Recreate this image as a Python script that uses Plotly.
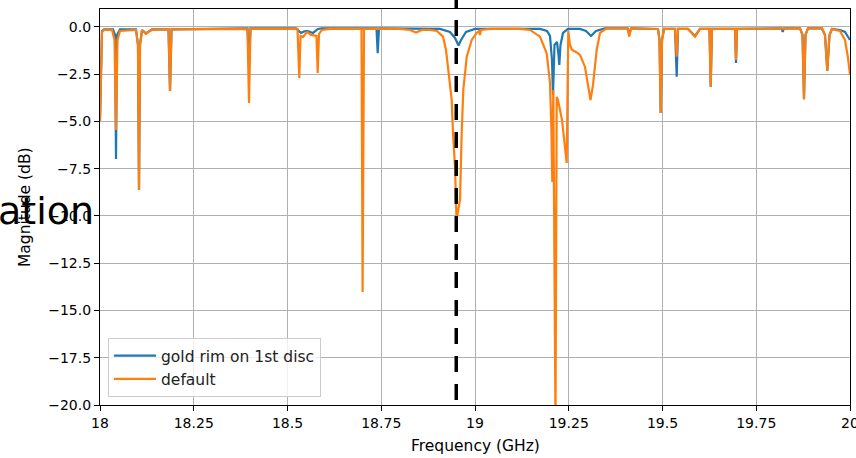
import plotly.graph_objects as go

# ---- data ----
freq_gold = [18.0, 18.0027, 18.0053, 18.0107, 18.0347, 18.04, 18.0427, 18.0453, 18.0533, 18.096,
             18.1013, 18.104, 18.1067, 18.112, 18.1227, 18.1387, 18.1827, 18.1867, 18.1907, 18.3933,
             18.3973, 18.4013, 18.5227, 18.536, 18.544, 18.552, 18.568, 18.5813, 18.592, 18.696,
             18.7373, 18.7405, 18.744, 18.9067, 18.9333, 18.9467, 18.956, 18.9627, 18.976, 19.0,
             19.1733, 19.192, 19.2, 19.2053, 19.208, 19.212, 19.2187, 19.2227, 19.2248, 19.228,
             19.2347, 19.248, 19.28, 19.296, 19.3093, 19.3227, 19.3467, 19.4067, 19.4115, 19.416,
             19.488, 19.492, 19.4952, 19.4987, 19.504, 19.5333, 19.5379, 19.5413, 19.568, 19.5867,
             19.6, 19.6253, 19.6285, 19.632, 19.6933, 19.696, 19.6987, 19.8173, 19.8205, 19.824,
             19.8667, 19.8733, 19.8773, 19.8813, 19.888, 19.9253, 19.9333, 19.9395, 19.9453, 19.952,
             19.9733, 19.9867, 20.0]
mag_gold = [-4.97, -1.75, -0.212, -0.132, -0.132, -0.423, -6.98, -0.423, -0.132, -0.132,
            -0.952, -8.62, -0.952, -0.159, -0.344, -0.132, -0.132, -3.39, -0.132, -0.079,
            -2.01, -0.079, -0.079, -0.317, -0.238, -0.212, -0.317, -0.106, -0.079, -0.079,
            -0.079, -1.392, -0.079, -0.106, -0.265, -0.582, -0.979, -0.688, -0.265, -0.106,
            -0.106, -0.212, -0.476, -1.746, -3.598, -0.952, -0.794, -1.481, -2.011, -0.952,
            -0.317, -0.106, -0.106, -0.212, -0.476, -0.212, -0.079, -0.079, -0.37, -0.079,
            -0.106, -0.688, -4.55, -0.688, -0.106, -0.106, -2.63, -0.106, -0.106, -0.476,
            -0.106, -0.106, -3.159, -0.106, -0.106, -1.905, -0.106, -0.079, -0.265, -0.079,
            -0.079, -0.423, -3.825, -0.423, -0.079, -0.079, -0.423, -2.312, -0.423, -0.106,
            -0.159, -0.265, -0.688]

freq_default = [18.0, 18.0027, 18.0053, 18.0107, 18.032, 18.0387, 18.0427, 18.0467, 18.0533, 18.096,
                18.1013, 18.104, 18.1067, 18.112, 18.1173, 18.1227, 18.1307, 18.1387, 18.1827, 18.1867,
                18.1907, 18.3933, 18.3973, 18.4013, 18.5267, 18.5315, 18.5347, 18.5413, 18.552, 18.5627,
                18.5773, 18.5805, 18.584, 18.592, 18.6133, 18.6973, 18.7003, 18.704, 18.8, 18.8267,
                18.8427, 18.8587, 18.88, 18.8987, 18.9147, 18.9227, 18.928, 18.9379, 18.9413, 18.9467,
                18.9507, 18.96, 18.9645, 18.9688, 18.9779, 18.9912, 19.0045, 19.0107, 19.0133, 19.016,
                19.04, 19.12, 19.1467, 19.1733, 19.1912, 19.2, 19.204, 19.2061, 19.2088, 19.2147,
                19.2179, 19.2213, 19.232, 19.2387, 19.2445, 19.2488, 19.2533, 19.2587, 19.2693, 19.28,
                19.2933, 19.3013, 19.308, 19.3147, 19.3245, 19.3333, 19.3512, 19.4067, 19.4115, 19.416,
                19.488, 19.492, 19.4952, 19.4987, 19.504, 19.5333, 19.5379, 19.5413, 19.568, 19.5867,
                19.6, 19.6253, 19.6285, 19.632, 19.6933, 19.696, 19.6987, 19.8667, 19.8733, 19.8773,
                19.8813, 19.888, 19.9253, 19.9333, 19.9395, 19.9453, 19.952, 19.9733, 19.9867, 19.9947,
                20.0]
mag_default = [-4.97, -1.75, -0.265, -0.159, -0.159, -0.688, -5.45, -0.688, -0.212, -0.159,
               -0.952, -8.62, -0.952, -0.212, -0.238, -0.37, -0.238, -0.159, -0.132, -3.39,
               -0.132, -0.106, -4.02, -0.106, -0.106, -2.70, -0.476, -0.529, -0.265, -0.423,
               -0.476, -2.43, -0.37, -0.159, -0.106, -0.106, -14.02, -0.106, -0.106, -0.159,
               -0.291, -0.159, -0.159, -0.212, -0.513, -1.217, -2.116, -3.862, -5.608, -7.407,
               -10.21, -9.153, -5.608, -3.333, -1.587, -0.688, -0.317, -0.212, -0.423, -0.159,
               -0.106, -0.106, -0.159, -0.513, -1.392, -2.963, -5.608, -8.201, -3.333, -21.0,
               -3.704, -3.862, -4.921, -5.979, -7.196, -0.212, -0.952, -1.217, -1.323, -1.481,
               -2.116, -3.069, -3.862, -3.069, -1.217, -0.317, -0.079, -0.079, -0.513, -0.079,
               -0.106, -0.688, -4.55, -0.688, -0.106, -0.106, -1.571, -0.106, -0.106, -0.513,
               -0.106, -0.106, -3.159, -0.106, -0.106, -1.746, -0.106, -0.079, -0.423, -3.825,
               -0.423, -0.079, -0.079, -0.423, -2.312, -0.423, -0.106, -0.212, -0.688, -1.64,
               -2.54]

series_names = ["gold rim on 1st disc", "default"]
marker_freq = 18.95

x_tick_vals = [18.0, 18.25, 18.5, 18.75, 19.0, 19.25, 19.5, 19.75, 20.0]
x_tick_text = ["18", "18.25", "18.5", "18.75", "19", "19.25", "19.5", "19.75", "20"]
y_tick_vals = [0.0, -2.5, -5.0, -7.5, -10.0, -12.5, -15.0, -17.5, -20.0]
y_tick_text = ["0.0", "\u22122.5", "\u22125.0", "\u22127.5", "\u221210.0",
               "\u221212.5", "\u221215.0", "\u221217.5", "\u221220.0"]

FONT = "DejaVu Sans"

fig = go.Figure()
fig.add_trace(go.Scatter(x=freq_gold, y=mag_gold, mode="lines", name=series_names[0],
                         line=dict(color="#1f77b4", width=2.2)))
fig.add_trace(go.Scatter(x=freq_default, y=mag_default, mode="lines", name=series_names[1],
                         line=dict(color="#ff7f0e", width=2.2)))

fig.add_shape(type="line", xref="x", yref="paper", x0=marker_freq, x1=marker_freq,
              y0=0.0126, y1=1.03, line=dict(color="black", width=3.5, dash="16px,12px"),
              layer="above")

axis_common = dict(showgrid=True, gridcolor="#b0b0b0", gridwidth=1, showline=True, mirror=True,
                   linecolor="black", linewidth=1.2, ticks="outside", ticklen=5, tickwidth=1.2,
                   tickcolor="black", zeroline=False, automargin=False, ticklabeloverflow="allow",
                   tickfont=dict(family=FONT, size=14, color="black"))

fig.update_layout(
    width=856, height=458,
    margin=dict(l=100, r=6, t=9, b=53, autoexpand=False),
    paper_bgcolor="white", plot_bgcolor="white",
    font=dict(family=FONT, size=14, color="black"),
    xaxis=dict(range=[18, 20], tickvals=x_tick_vals, ticktext=x_tick_text, **axis_common),
    yaxis=dict(range=[-20, 0.95], tickvals=y_tick_vals, ticktext=y_tick_text, **axis_common),
    showlegend=True,
    legend=dict(x=0.0107, y=0.02, xanchor="left", yanchor="bottom", itemwidth=42,
                bgcolor="rgba(255,255,255,0.8)", bordercolor="#cccccc", borderwidth=1,
                font=dict(family=FONT, size=15.5, color="#222222"), tracegroupgap=0),
    annotations=[
        dict(text="Frequency (GHz)", xref="paper", yref="paper", x=0.5, y=-0.1035,
             xanchor="center", yanchor="middle", showarrow=False,
             font=dict(family=FONT, size=15.5, color="black")),
        dict(text="Magnitude (dB)", xref="paper", yref="paper", x=-0.1, y=0.5,
             xanchor="center", yanchor="middle", textangle=-90, showarrow=False,
             font=dict(family=FONT, size=15.5, color="black")),
        dict(text="ation", xref="paper", yref="paper", x=-0.006, y=0.49,
             xanchor="right", yanchor="middle", showarrow=False,
             font=dict(family=FONT, size=38, color="black")),
    ],
)

fig.write_html("out.html", config={"displayModeBar": False},
               post_script="document.body.style.margin='0px';")
